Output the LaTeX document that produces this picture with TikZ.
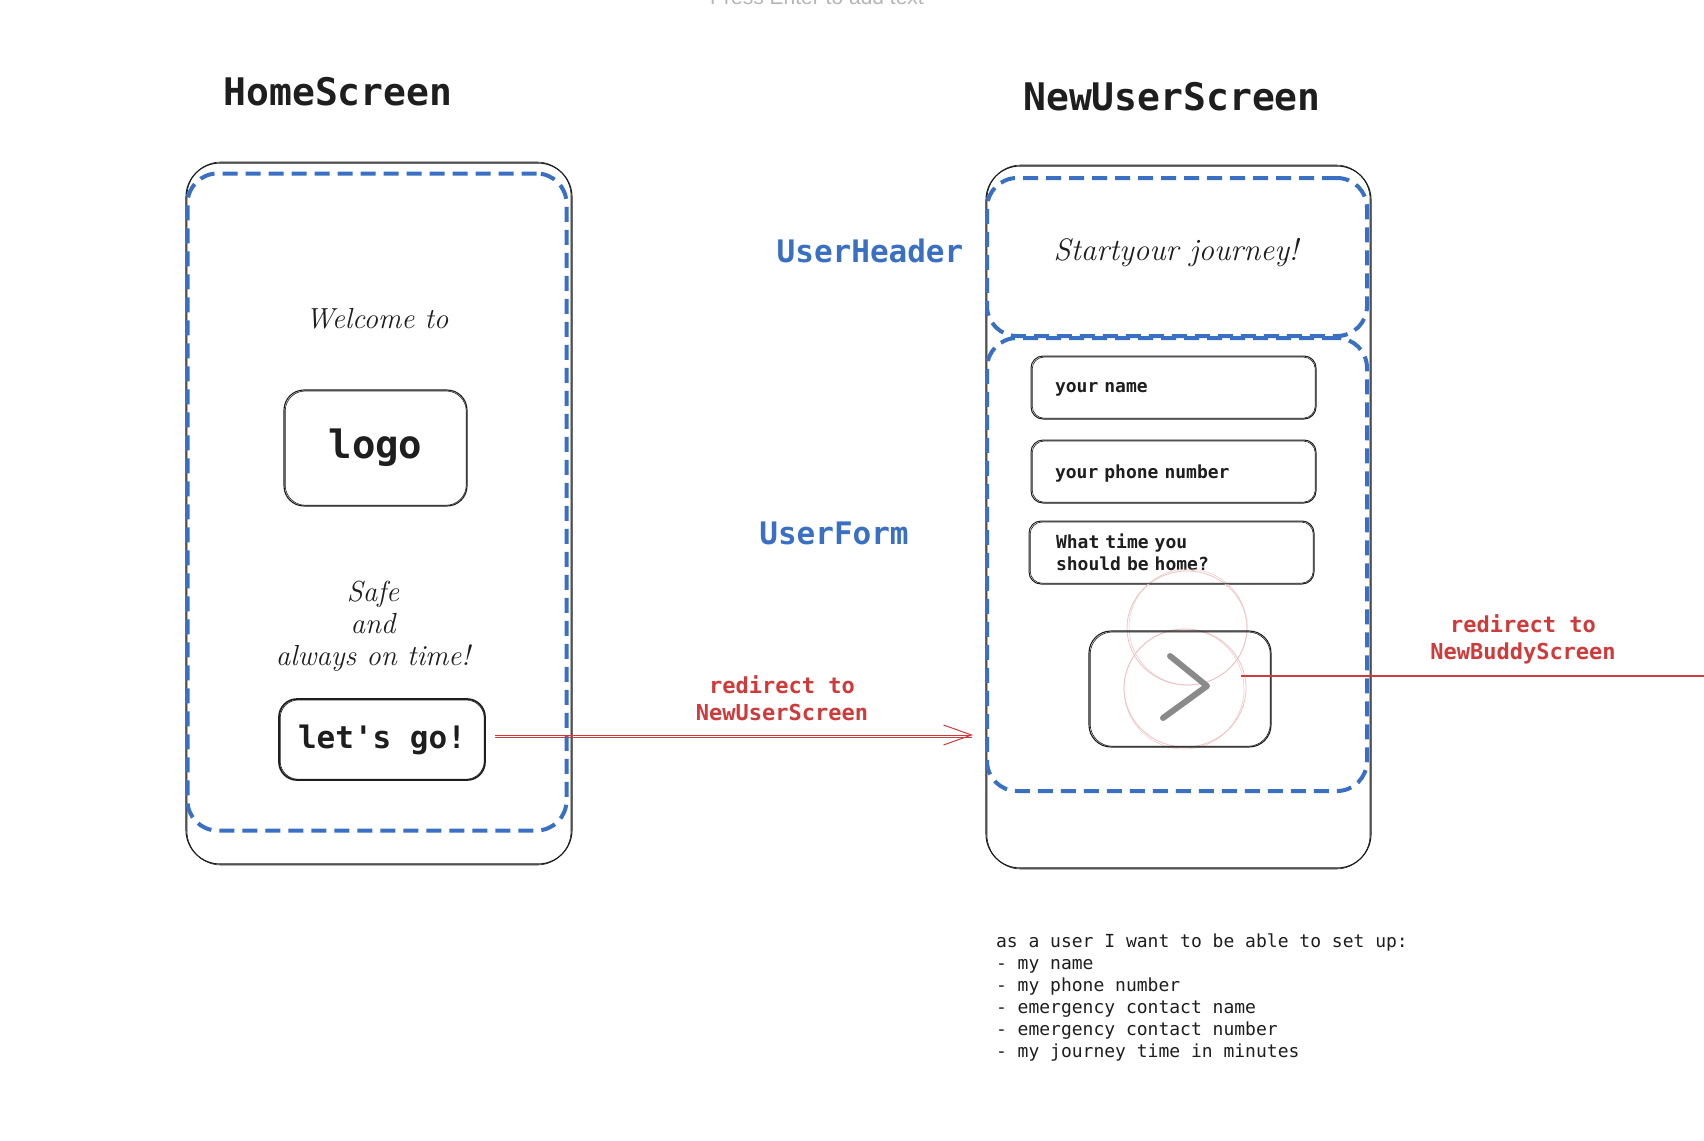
\documentclass[tikz,border=0pt]{standalone}
\usepackage{fontspec}
\setmonofont{DejaVu Sans Mono}
\newfontfamily\hintfont{Liberation Sans}
\usetikzlibrary{arrows.meta}

\definecolor{inkc}{HTML}{1E1E1E}
\definecolor{zoneblue}{HTML}{3A70C4}
\definecolor{linkred}{HTML}{CF3B3B}
\definecolor{pinkc}{HTML}{F0C2C2}
\definecolor{chevgrey}{HTML}{8A8A8A}
\definecolor{hintgrey}{HTML}{B5B5B5}

\begin{document}
\begin{tikzpicture}[x=1pt,y=-1pt,
  every node/.style={inner sep=0pt, outer sep=0pt},
  frame/.style={draw=inkc, line width=1.1pt, rounded corners=34pt},
  region/.style={draw=zoneblue, line width=4pt, dash pattern=on 15pt off 8pt, rounded corners=30pt},
  title/.style={text=inkc, font=\ttfamily\bfseries\fontsize{38}{46}\selectfont},
  zonetag/.style={text=zoneblue, font=\ttfamily\bfseries\fontsize{31}{37}\selectfont},
  hand/.style={text=inkc, align=center, font=\itshape\fontsize{29}{32}\selectfont},
  sketchbox/.style={draw=inkc, line width=1.1pt, rounded corners=#1},
  field/.style={draw=inkc, line width=1pt, rounded corners=12pt, minimum height=63pt,
    text width=237pt, inner xsep=24pt, align=left, text=inkc,
    font=\ttfamily\bfseries\fontsize{18}{22}\selectfont},
  tag/.style={text=linkred, align=center, font=\ttfamily\bfseries\fontsize{22}{27}\selectfont},
  link/.style={draw=linkred, line width=1pt},
]
% page
\useasboundingbox (0,0) rectangle (1704,1140);
\fill[white] (0,0) rectangle (1704,1140);
\clip (0,0) rectangle (1704,1140);

\node[anchor=base, text=hintgrey, font=\hintfont\fontsize{21}{25}\selectfont] (hint) at (817,5) {Press Enter to add text};

% ---------- HomeScreen ----------
\node[title] (hometitle) at (338,92) {HomeScreen};
\node[frame, minimum width=386pt, minimum height=701pt] (homephone) at (379,513.5) {};
\draw[inkc, line width=0.6pt, rounded corners=34pt] ([shift={(1,1)}]homephone.south west) rectangle ([shift={(-1,-1)}]homephone.north east);
\node[region, minimum width=379pt, minimum height=657pt] (homezone) at (377,502) {};

\node[hand] (welcome) at (377,319) {Welcome to};
\node[sketchbox=20pt, minimum width=183pt, minimum height=116pt, text=inkc,
      font=\ttfamily\bfseries\fontsize{39}{46}\selectfont] (logo) at (375.5,448) {logo};
\node[hand] (slogan) at (373,626) {Safe\\and\\always on time!};
\node[sketchbox=18pt, line width=1.7pt, minimum width=206pt, minimum height=81pt, text=inkc,
      font=\ttfamily\bfseries\fontsize{31}{37}\selectfont] (letsgo) at (382,739.5) {let's go!};

% ---------- NewUserScreen ----------
\node[title] (newtitle) at (1172,97) {NewUserScreen};
\node[frame, minimum width=385pt, minimum height=702pt] (newphone) at (1178.5,517) {};
\draw[inkc, line width=0.6pt, rounded corners=34pt] ([shift={(1,1)}]newphone.south west) rectangle ([shift={(-1,-1)}]newphone.north east);
\node[region, minimum width=380pt, minimum height=158pt] (headerzone) at (1177,257) {};
\node[region, minimum width=380pt, minimum height=453pt] (formzone) at (1177,564.5) {};

\node[zonetag] (headertag) at (870,251) {UserHeader};
\node[zonetag] (formtag) at (834,533) {UserForm};

\node[hand, font=\itshape\fontsize{31}{34}\selectfont] (journey) at (1176,253) {Startyour journey!};

\node[field, text depth=0pt] (namefield) at (1173.5,387.5) {your name};
\node[field, text depth=0pt] (phonefield) at (1173.5,471.5) {your phone number};
\node[field, text width=231pt, inner xsep=27pt] (timefield) at (1171.5,552.5) {What time you\\should be home?};

% pink touch rings behind the next button
\draw[pinkc, line width=0.8pt] (1187,628) ellipse [x radius=60, y radius=57];
\draw[pinkc, line width=0.5pt] (1188,627) ellipse [x radius=59, y radius=58];
\draw[pinkc, line width=0.8pt] (1185,688) ellipse [x radius=61, y radius=59];
\draw[pinkc, line width=0.5pt] (1184,689) ellipse [x radius=60, y radius=60];

\node[sketchbox=22pt, minimum width=182pt, minimum height=116pt] (nextbtn) at (1180,689) {};
\draw[chevgrey, line width=6pt, line cap=round, line join=round]
  ([shift={(-10,-33)}]nextbtn.center) -- ([shift={(27,-3)}]nextbtn.center) -- ([shift={(-17,29)}]nextbtn.center);

% second strokes for the hand-drawn boxes
\foreach \n/\r in {logo/20, letsgo/18, namefield/12, phonefield/12, timefield/12, nextbtn/22}
  \draw[inkc, line width=0.6pt, rounded corners=\r pt]
    ([shift={(1.2,-0.8)}]\n.south west) rectangle ([shift={(-0.8,1.0)}]\n.north east);

% ---------- links ----------
\draw[link, shorten <=10pt, shorten >=13pt, -{Straight Barb[length=28pt,width=20pt]}]
  ([yshift=4.5pt]letsgo.east) -- ([yshift=4.5pt]letsgo.east -| newphone.west);
\draw[linkred, line width=0.7pt, shorten <=10pt, shorten >=14pt]
  ([yshift=2pt]letsgo.east) -- ([yshift=2pt]letsgo.east -| newphone.west);
\node[tag] (tagnewuser) at (782,698) {redirect to\\NewUserScreen};

\coordinate (offpage) at (1714,676);
\draw[link, line width=1.6pt, shorten <=-30pt] (nextbtn.east |- offpage) -- (offpage);
\node[tag] (tagbuddy) at (1523,639) {redirect to\\NewBuddyScreen};

% ---------- notes ----------
\node[anchor=north west, align=left, text=inkc, font=\ttfamily\fontsize{18}{22}\selectfont] (notes) at (996,934)
{as a user I want to be able to set up:\\
- my name\\
- my phone number\\
- emergency contact name\\
- emergency contact number\\
- my journey time in minutes};
\end{tikzpicture}
\end{document}
